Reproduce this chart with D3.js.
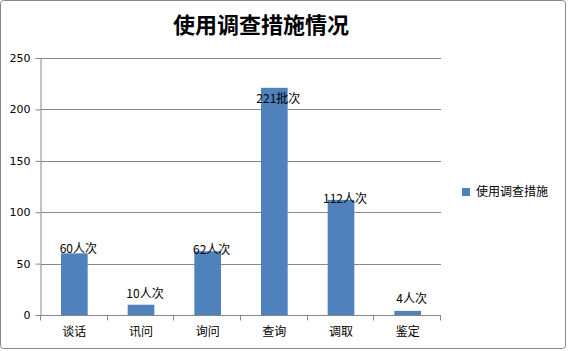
<!DOCTYPE html>
<html>
<head>
<meta charset="utf-8">
<script src="https://cdn.jsdelivr.net/npm/d3@7"></script>
<style>
  body { margin: 0; background: #fff; }
</style>
</head>
<body>
<script>
const categories = ["谈话", "讯问", "询问", "查询", "调取", "鉴定"];
const values = [60, 10, 62, 221, 112, 4];
const labels = ["60人次", "10人次", "62人次", "221批次", "112人次", "4人次"];
const yTicks = [0, 50, 100, 150, 200, 250];
// small vertical nudges of each value label, as placed in the original
const labelNudge = [0, -7, 3, 15, 3, -8];

const width = 568, height = 351;
const margin = { top: 58, right: 127, bottom: 36, left: 41 };

const svg = d3.select("body").append("svg")
  .attr("width", width)
  .attr("height", height)
  .style("font-family", "'Noto Sans CJK SC', sans-serif");

svg.append("rect")
  .attr("x", 0.5).attr("y", 0.5)
  .attr("width", width - 3).attr("height", height - 3)
  .attr("rx", 3)
  .attr("fill", "#fff")
  .attr("stroke", "#868686");

svg.append("text")
  .attr("x", 261).attr("y", 33)
  .attr("text-anchor", "middle")
  .attr("font-size", 22)
  .attr("font-weight", "bold")
  .text("使用调查措施情况");

const x = d3.scaleBand()
  .domain(categories)
  .range([margin.left, width - margin.right])
  .paddingInner(0.6)
  .paddingOuter(0.3);

const y = d3.scaleLinear()
  .domain([0, 250])
  .range([height - margin.bottom, margin.top]);

// gridlines
svg.append("g")
  .selectAll("line")
  .data(yTicks.slice(1))
  .join("line")
  .attr("x1", margin.left).attr("x2", width - margin.right)
  .attr("y1", d => Math.round(y(d)) + 0.5).attr("y2", d => Math.round(y(d)) + 0.5)
  .attr("stroke", "#868686");

// y axis
const yAxis = svg.append("g")
  .attr("transform", `translate(${margin.left - 0.5},0)`)
  .call(d3.axisLeft(y).tickValues(yTicks).tickSize(5).tickPadding(5))
  .call(g => g.selectAll("path, line").attr("stroke", "#868686"))
  .call(g => g.selectAll("text").attr("font-size", 11).attr("fill", "#000")
    .attr("font-family", "'DejaVu Sans', sans-serif"));

// bars
svg.append("g")
  .selectAll("rect")
  .data(values)
  .join("rect")
  .attr("x", (d, i) => x(categories[i]))
  .attr("y", d => y(d))
  .attr("width", x.bandwidth())
  .attr("height", d => y(0) - y(d))
  .attr("fill", "#4F81BD");

// x axis
const step = (width - margin.right - margin.left) / categories.length;
const xg = svg.append("g")
  .attr("transform", `translate(0,${Math.round(y(0)) + 0.5})`);
xg.append("line")
  .attr("x1", margin.left - 5).attr("x2", width - margin.right)
  .attr("stroke", "#868686");
xg.selectAll(".tk")
  .data(d3.range(categories.length + 1))
  .join("line")
  .attr("class", "tk")
  .attr("x1", i => Math.round(margin.left + i * step) - 0.5)
  .attr("x2", i => Math.round(margin.left + i * step) - 0.5)
  .attr("y1", 0).attr("y2", 5)
  .attr("stroke", "#868686");
xg.selectAll("text")
  .data(categories)
  .join("text")
  .attr("x", d => x(d) + x.bandwidth() / 2)
  .attr("y", 20)
  .attr("text-anchor", "middle")
  .attr("font-size", 12)
  .text(d => d);

// value labels
svg.append("g")
  .selectAll("text")
  .data(values)
  .join("text")
  .attr("x", (d, i) => x(categories[i]) + x.bandwidth() / 2 + 4)
  .attr("y", (d, i) => y(d) + labelNudge[i])
  .attr("text-anchor", "middle")
  .attr("font-size", 12)
  .text((d, i) => labels[i]);

// legend
const lg = svg.append("g").attr("transform", "translate(462,188)");
lg.append("rect").attr("width", 8).attr("height", 8).attr("fill", "#4F81BD");
lg.append("text")
  .attr("x", 14).attr("y", 4)
  .attr("dy", "0.35em")
  .attr("font-size", 12)
  .text("使用调查措施");
</script>
</body>
</html>
